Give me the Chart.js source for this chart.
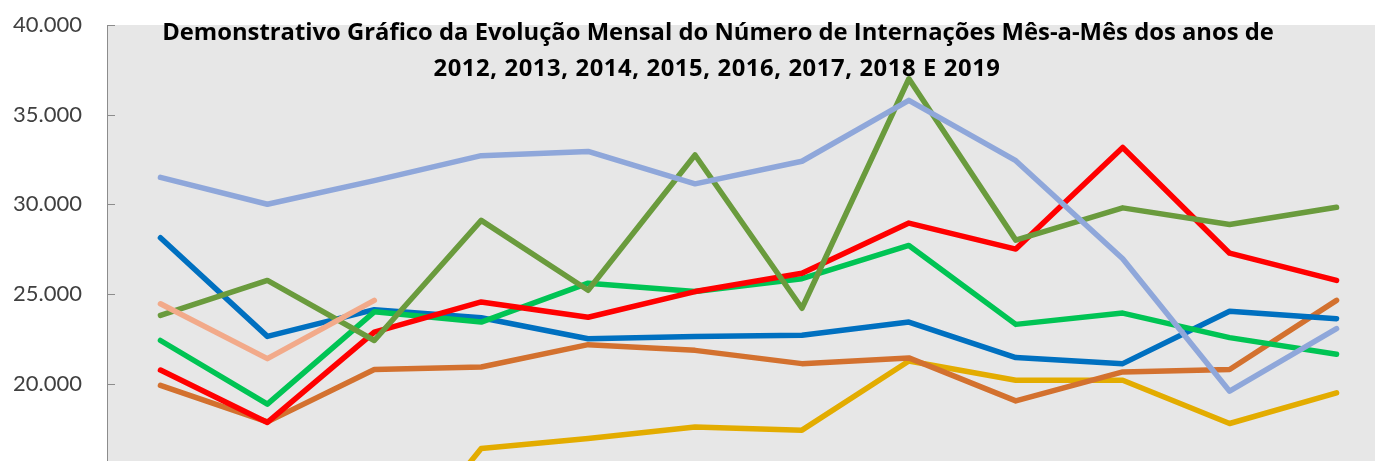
<!DOCTYPE html>
<html lang="pt-BR">
<head>
<meta charset="utf-8">
<title>Evolução Mensal do Número de Internações</title>
<script src="https://cdn.jsdelivr.net/npm/chart.js@4.4.1/dist/chart.umd.min.js"></script>
<style>
    html, body { margin: 0; padding: 0; background: #ffffff; overflow: hidden; }
    /* o gráfico original aparece recortado à direita e embaixo */
    #wrap { position: relative; width: 1375px; height: 461px; overflow: hidden; }
    #internacoes { position: absolute; left: 0; top: 0; }
</style>
</head>
<body>
<div id="wrap">
    <canvas id="internacoes" width="1390" height="576"></canvas>
</div>
<script>
// categorias (meses) e anos
const meses = ['Jan', 'Fev', 'Mar', 'Abr', 'Mai', 'Jun', 'Jul', 'Ago', 'Set', 'Out', 'Nov', 'Dez'];
const anos = ['2012', '2013', '2014', '2015', '2016', '2017', '2018', '2019'];

// número de internações por mês
const valores2012 = [null, null, 9000, 16380, 16940, 17580, 17400, 21260, 20180, 20180, 17770, 19480];
const valores2013 = [19900, 17860, 20780, 20920, 22170, 21850, 21110, 21430, 19030, 20650, 20780, 24640];
const valores2014 = [28130, 22630, 24120, 23670, 22500, 22630, 22690, 23430, 21450, 21110, 24030, 23620];
const valores2015 = [22400, 18850, 24000, 23430, 25600, 25130, 25850, 27700, 23300, 23930, 22560, 21630];
const valores2016 = [20750, 17830, 22870, 24550, 23700, 25130, 26150, 28950, 27500, 33170, 27270, 25750];
const valores2017 = [23800, 25750, 22400, 29100, 25200, 32750, 24200, 37000, 28000, 29800, 28870, 29830];
const valores2018 = [31500, 30000, 31320, 32710, 32950, 31140, 32400, 35800, 32430, 26960, 19570, 23060];
const valores2019 = [24450, 21390, 24640, null, null, null, null, null, null, null, null, null];

// eixo Y
const eixoMin = 10000;
const eixoMax = 40000;
const eixoPasso = 5000;

const tituloLinhas = [
    'Demonstrativo Gráfico da Evolução Mensal do Número de Internações Mês-a-Mês dos anos de',
    '2012, 2013, 2014, 2015, 2016, 2017, 2018 E 2019'
];

const cores = ['#E3AC00', '#D3712F', '#0070C0', '#00C454', '#FF0000', '#6A9B3D', '#8FA7DA', '#F2AA8A'];
const series = [valores2012, valores2013, valores2014, valores2015, valores2016, valores2017, valores2018, valores2019];

const datasets = series.map(function (dados, i) {
    return {
        label: anos[i],
        data: dados,
        borderColor: cores[i],
        backgroundColor: cores[i],
        borderWidth: 5.5,
        borderJoinStyle: 'round',
        borderCapStyle: 'round',
        pointRadius: 0,
        tension: 0,
        fill: false,
        // ano mais recente desenhado por cima, como no Excel
        order: anos.length - i
    };
});

// fundo cinza da área do gráfico + marcas do eixo Y voltadas para dentro + título sobre a área
const areaPlugin = {
    id: 'areaPlugin',
    beforeDraw: function (chart) {
        const area = chart.chartArea;
        const ctx = chart.ctx;
        ctx.save();
        ctx.fillStyle = '#E7E7E7';
        ctx.fillRect(area.left, area.top, area.right - area.left, area.bottom - area.top);
        ctx.restore();
    },
    afterDraw: function (chart) {
        const ctx = chart.ctx;
        const y = chart.scales.y;
        ctx.save();
        ctx.strokeStyle = '#8C8C8C';
        ctx.lineWidth = 1;
        y.ticks.forEach(function (t) {
            const py = Math.round(y.getPixelForValue(t.value)) + 0.5;
            ctx.beginPath();
            ctx.moveTo(chart.chartArea.left, py);
            ctx.lineTo(chart.chartArea.left + 8, py);
            ctx.stroke();
        });

        // título em duas linhas, por cima da área do gráfico
        ctx.fillStyle = '#000000';
        ctx.font = 'bold 23.8px "Open Sans"';
        ctx.textAlign = 'center';
        ctx.textBaseline = 'alphabetic';
        ctx.fillText(tituloLinhas[0], 718, 40);
        ctx.letterSpacing = '0.6px';
        ctx.fillText(tituloLinhas[1], 717, 76);
        ctx.restore();
    }
};

const ctx = document.getElementById('internacoes').getContext('2d');
const grafico = new Chart(ctx, {
    type: 'line',
    data: {
        labels: meses,
        datasets: datasets
    },
    options: {
        responsive: false,
        animation: false,
        layout: {
            padding: { top: 25, right: 0, bottom: 0, left: 0 }
        },
        plugins: {
            legend: { display: false },
            title: { display: false },
            tooltip: { enabled: false }
        },
        scales: {
            x: {
                display: false,
                offset: true
            },
            y: {
                min: eixoMin,
                max: eixoMax,
                afterFit: function (scale) {
                    scale.width = 107;
                },
                ticks: {
                    stepSize: eixoPasso,
                    padding: 0,
                    color: '#404040',
                    font: { family: 'Lato', size: 22 },
                    callback: function (v) {
                        return v.toLocaleString('pt-BR', { minimumFractionDigits: 0 }).replace(',', '.');
                    }
                },
                grid: {
                    display: true,
                    drawOnChartArea: false,
                    drawTicks: true,
                    tickLength: 25,
                    tickColor: 'rgba(0,0,0,0)'
                },
                border: {
                    display: true,
                    color: '#8C8C8C',
                    width: 1
                }
            }
        }
    },
    plugins: [areaPlugin]
});
</script>
</body>
</html>
